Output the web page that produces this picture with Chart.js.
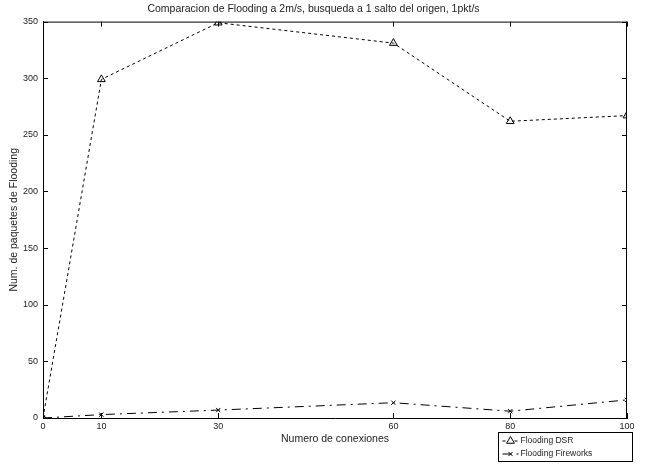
<!DOCTYPE html>
<html>
<head>
<meta charset="utf-8">
<script src="https://cdn.jsdelivr.net/npm/chart.js@4"></script>
<style>
  html, body { margin: 0; padding: 0; background: #fff; }
  #wrap { width: 649px; height: 464px; }
</style>
</head>
<body>
<div id="wrap"><canvas id="floodChart" width="649" height="464"></canvas></div>
<script>
// conexiones (eje x) y valores de cada serie
var xValues = [0, 10, 30, 60, 80, 100];
var dsrValues = [0, 299, 349, 331, 262, 267];
var fireworksValues = [0, 3, 7, 13.5, 6, 16];
var xTicks = [0, 10, 30, 60, 80, 100];
var yTicks = [0, 50, 100, 150, 200, 250, 300, 350];
var seriesNames = ["Flooding DSR", "Flooding Fireworks"];

var FONT = "'Liberation Sans', Arial, sans-serif";

function toPoints(xs, ys) {
    return xs.map(function (x, i) { return { x: x, y: ys[i] }; });
}

// ticks hacia dentro en los cuatro lados + marco superior/derecho + leyenda
var framePlugin = {
    id: "frame",
    afterDatasetsDraw: function (chart) {
        var ctx = chart.ctx, a = chart.chartArea;
        var xs = chart.scales.x, ys = chart.scales.y;
        ctx.save();
        ctx.strokeStyle = "#000";
        ctx.lineWidth = 1;
        ctx.beginPath();
        ctx.moveTo(a.left, a.top + 0.5);
        ctx.lineTo(a.right, a.top + 0.5);
        ctx.moveTo(a.right - 0.5, a.top);
        ctx.lineTo(a.right - 0.5, a.bottom);
        xTicks.forEach(function (v) {
            var px = Math.round(xs.getPixelForValue(v)) + 0.5;
            ctx.moveTo(px, a.bottom);
            ctx.lineTo(px, a.bottom - 5);
            ctx.moveTo(px, a.top);
            ctx.lineTo(px, a.top + 5);
        });
        yTicks.forEach(function (v) {
            var py = Math.round(ys.getPixelForValue(v)) + 0.5;
            ctx.moveTo(a.left, py);
            ctx.lineTo(a.left + 5, py);
            ctx.moveTo(a.right, py);
            ctx.lineTo(a.right - 5, py);
        });
        ctx.stroke();
        ctx.restore();
    },
    afterDraw: function (chart) {
        var ctx = chart.ctx;
        var bx = 498.5, by = 432.5, bw = 134, bh = 29;
        ctx.save();
        ctx.fillStyle = "#fff";
        ctx.fillRect(bx, by, bw, bh);
        ctx.strokeStyle = "#000";
        ctx.lineWidth = 1;
        ctx.strokeRect(bx, by, bw, bh);
        var rows = [by + 8.5, by + 21.5];
        var sets = chart.data.datasets;
        rows.forEach(function (ry, i) {
            var ds = sets[i];
            ctx.save();
            ctx.setLineDash(ds.borderDash);
            ctx.beginPath();
            ctx.moveTo(bx + 4, ry);
            ctx.lineTo(bx + 20, ry);
            ctx.stroke();
            ctx.restore();
            Chart.helpers.drawPoint(ctx, {
                pointStyle: ds.pointStyle,
                radius: ds.pointRadius,
                borderWidth: 1,
                rotation: 0
            }, bx + 12, ry);
            ctx.fillStyle = "#222";
            ctx.font = "8.5px " + FONT;
            ctx.textBaseline = "middle";
            ctx.fillText(seriesNames[i], bx + 22, ry);
        });
        ctx.restore();
    }
};

new Chart("floodChart", {
    type: "line",
    data: {
        datasets: [{
            label: seriesNames[0],
            data: toPoints(xValues, dsrValues),
            borderColor: "#000",
            borderWidth: 1,
            borderDash: [3, 3],
            pointStyle: "triangle",
            pointRadius: 4.5,
            pointBorderColor: "#000",
            pointBackgroundColor: "rgba(255,255,255,0)",
            pointBorderWidth: 1,
            tension: 0
        }, {
            label: seriesNames[1],
            data: toPoints(xValues, fireworksValues),
            borderColor: "#000",
            borderWidth: 1,
            borderDash: [9, 5, 2, 5],
            pointStyle: "crossRot",
            pointRadius: 3,
            pointBorderColor: "#000",
            pointBorderWidth: 1,
            tension: 0
        }]
    },
    options: {
        responsive: false,
        animation: false,
        events: [],
        layout: { padding: { left: 0, right: 22, top: 0, bottom: 0 } },
        plugins: {
            legend: { display: false },
            tooltip: { enabled: false },
            title: {
                display: true,
                text: "Comparacion de Flooding a 2m/s, busqueda a 1 salto del origen, 1pkt/s",
                color: "#222",
                font: { family: FONT, size: 10.5, weight: "normal", lineHeight: 1.2 },
                padding: { top: 3, bottom: 6 }
            }
        },
        scales: {
            x: {
                type: "linear",
                min: 0,
                max: 100,
                afterBuildTicks: function (scale) {
                    scale.ticks = xTicks.map(function (v) { return { value: v }; });
                },
                afterFit: function (scale) { scale.height = 46; },
                grid: { display: true, drawOnChartArea: false, drawTicks: false },
                border: { display: true, color: "#000", width: 1 },
                ticks: {
                    color: "#222",
                    padding: 3,
                    maxRotation: 0,
                    font: { family: FONT, size: 9 }
                },
                title: {
                    display: true,
                    text: "Numero de conexiones",
                    color: "#222",
                    font: { family: FONT, size: 10.5 },
                    padding: { top: 0, bottom: 19 }
                }
            },
            y: {
                type: "linear",
                min: 0,
                max: 350,
                afterBuildTicks: function (scale) {
                    scale.ticks = yTicks.map(function (v) { return { value: v }; });
                },
                afterFit: function (scale) { scale.width = 43; },
                grid: { display: true, drawOnChartArea: false, drawTicks: false },
                border: { display: true, color: "#000", width: 1 },
                ticks: {
                    color: "#222",
                    padding: 5,
                    font: { family: FONT, size: 9 }
                },
                title: {
                    display: true,
                    text: "Num. de paquetes de Flooding",
                    color: "#222",
                    font: { family: FONT, size: 10.5 },
                    padding: { top: 8, bottom: 0 }
                }
            }
        }
    },
    plugins: [framePlugin]
});
</script>
</body>
</html>
